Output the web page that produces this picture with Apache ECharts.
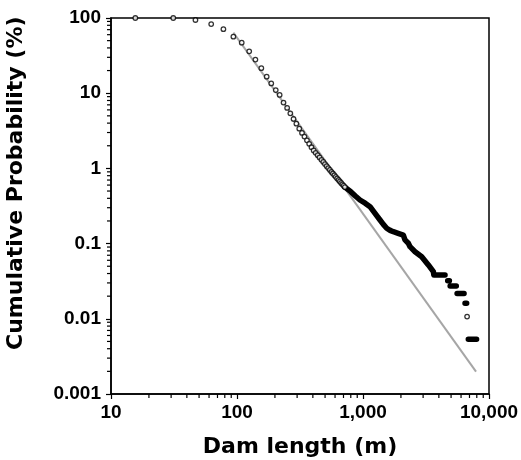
<!DOCTYPE html>
<html>
<head>
<meta charset="utf-8">
<script src="https://cdn.jsdelivr.net/npm/echarts@6/dist/echarts.min.js"></script>
<style>html,body{margin:0;padding:0;background:#fff;}#c{width:521px;height:460px;}</style>
</head>
<body>
<div id="c"></div>
<script>
// ---- data ----
const xTickValues = [10, 100, 1000, 10000];
const xTickLabels = ['10', '100', '1,000', '10,000'];
const yTickValues = [0.001, 0.01, 0.1, 1, 10, 100];
const yTickLabels = ['0.001', '0.01', '0.1', '1', '10', '100'];
const xMinorTicks = [20,30,40,50,60,70,80,90,200,300,400,500,600,700,800,900,2000,3000,4000,5000,6000,7000,8000,9000];
const yMinorTicks = [0.002,0.003,0.004,0.005,0.006,0.007,0.008,0.009,0.02,0.03,0.04,0.05,0.06,0.07,0.08,0.09,0.2,0.3,0.4,0.5,0.6,0.7,0.8,0.9,2,3,4,5,6,7,8,9,20,30,40,50,60,70,80,90];

// observed points (open circles), dam length (m) and cumulative probability (%)
const circleX = [15.6, 31.2, 46.8, 62.4, 78, 93.6, 109, 125, 140, 156, 172, 187, 203, 218, 234, 250, 265, 281, 296, 312, 328, 343, 359, 374, 390, 406, 421, 437, 452, 468, 484, 499, 515, 530, 546, 562, 577, 593, 608, 624, 640, 655, 671, 686, 702, 718, 6700];
const circleY = [100, 100, 94, 83, 71, 56.4, 47, 36, 28, 21.5, 16.6, 13.5, 11, 9.5, 7.5, 6.37, 5.40, 4.54, 3.93, 3.37, 2.96, 2.65, 2.36, 2.12, 1.91, 1.73, 1.61, 1.50, 1.40, 1.30, 1.22, 1.14, 1.07, 1.01, 0.955, 0.897, 0.855, 0.811, 0.773, 0.736, 0.701, 0.671, 0.640, 0.615, 0.589, 0.564, 0.0107];

// dense tail of observed points (merged band and horizontal runs); null = gap
const bandX = [718, 800, 870, 946, 1040, 1137, 1250, 1365, 1450, 1542, 1640, 1742, 1900, 2090, 2154, 2290, 2362, 2588, 2924, 3302, 3404, 3617, 3650, 4477, null, 4700, 4850, null, 4915, 5500, null, 5580, 6340, null, 6450, 6650, null, 6850, 7970];
const bandY = [0.564, 0.49, 0.43, 0.38, 0.345, 0.31, 0.25, 0.206, 0.18, 0.160, 0.150, 0.144, 0.137, 0.130, 0.112, 0.101, 0.091, 0.078, 0.067, 0.052, 0.049, 0.0423, 0.0382, 0.0382, null, 0.0321, 0.0321, null, 0.0273, 0.0273, null, 0.0217, 0.0217, null, 0.0161, 0.0161, null, 0.00533, 0.00533];

// fitted power-law line end points
const fitX = [93.6, 7890];
const fitY = [63.8, 0.00198];

// ---- build chart ----
const circleData = circleX.map((x, i) => [x, circleY[i]]);
const bandData = bandX.map((x, i) => bandY[i] == null ? [bandX[i - 1], '-'] : [x, bandY[i]]);
const fitData = fitX.map((x, i) => [x, fitY[i]]);
const xMinorData = xMinorTicks.map(v => [v, 0.001]);
const yMinorData = yMinorTicks.map(v => [10, v]);

const labelFont = { fontFamily: 'Liberation Sans', fontWeight: 'bold', fontSize: 19, color: '#000' };

const chart = echarts.init(document.getElementById('c'), null, { renderer: 'canvas' });
chart.setOption({
  animation: false,
  backgroundColor: '#fff',
  grid: { left: 111, top: 18, width: 378, height: 376, show: true, borderColor: '#000', borderWidth: 1.5, backgroundColor: 'transparent', containLabel: false, outerBoundsMode: 'none' },
  xAxis: {
    type: 'log', logBase: 10, min: 10, max: 10000,
    name: 'Dam length (m)', nameLocation: 'middle', nameGap: 42,
    nameTextStyle: { fontFamily: 'DejaVu Sans', fontWeight: 'bold', fontSize: 22, color: '#000' },
    axisLine: { lineStyle: { color: '#000', width: 1.5 } },
    axisTick: { show: true, length: 5, inside: false, lineStyle: { color: '#000', width: 1.2 } },
    minorTick: { show: false },
    splitLine: { show: false },
    axisLabel: Object.assign({ margin: 9, formatter: v => { const i = xTickValues.findIndex(t => Math.abs(Math.log10(t) - Math.log10(v)) < 1e-6); return i >= 0 ? xTickLabels[i] : ''; } }, labelFont)
  },
  yAxis: {
    type: 'log', logBase: 10, min: 0.001, max: 100,
    axisLine: { lineStyle: { color: '#000', width: 1.5 } },
    axisTick: { show: true, length: 5, inside: false, lineStyle: { color: '#000', width: 1.2 } },
    splitLine: { show: false },
    axisLabel: Object.assign({ margin: 10, formatter: v => { const i = yTickValues.findIndex(t => Math.abs(Math.log10(t) - Math.log10(v)) < 1e-6); return i >= 0 ? yTickLabels[i] : ''; } }, labelFont)
  },
  graphic: [{
    type: 'text',
    style: { text: 'Cumulative Probability (%)', fontFamily: 'DejaVu Sans', fontWeight: 'bold', fontSize: 22, fill: '#000' },
    rotation: Math.PI / 2, x: 5, y: 350
  }],
  series: [
    {
      type: 'line', data: fitData, symbol: 'none', z: 1,
      lineStyle: { color: '#a6a6a6', width: 2 }
    },
    {
      type: 'line', data: bandData, symbol: 'none', z: 3, connectNulls: false,
      lineStyle: { color: '#000', width: 5.5, cap: 'round', join: 'round' }
    },
    {
      type: 'scatter', data: circleData, symbol: 'circle', symbolSize: 4.5, z: 4, clip: false,
      itemStyle: { color: '#fff', borderColor: '#000', borderWidth: 1.3 }
    },
    {
      type: 'custom', data: xMinorData, z: 5, clip: false, silent: true,
      renderItem: (params, api) => {
        const p = api.coord([api.value(0), api.value(1)]);
        return { type: 'line', shape: { x1: p[0], y1: p[1], x2: p[0], y2: p[1] + 4 }, style: { stroke: '#000', lineWidth: 1.2 } };
      }
    },
    {
      type: 'custom', data: yMinorData, z: 5, clip: false, silent: true,
      renderItem: (params, api) => {
        const p = api.coord([api.value(0), api.value(1)]);
        return { type: 'line', shape: { x1: p[0] - 4, y1: p[1], x2: p[0], y2: p[1] }, style: { stroke: '#000', lineWidth: 1.2 } };
      }
    }
  ]
});
</script>
</body>
</html>
